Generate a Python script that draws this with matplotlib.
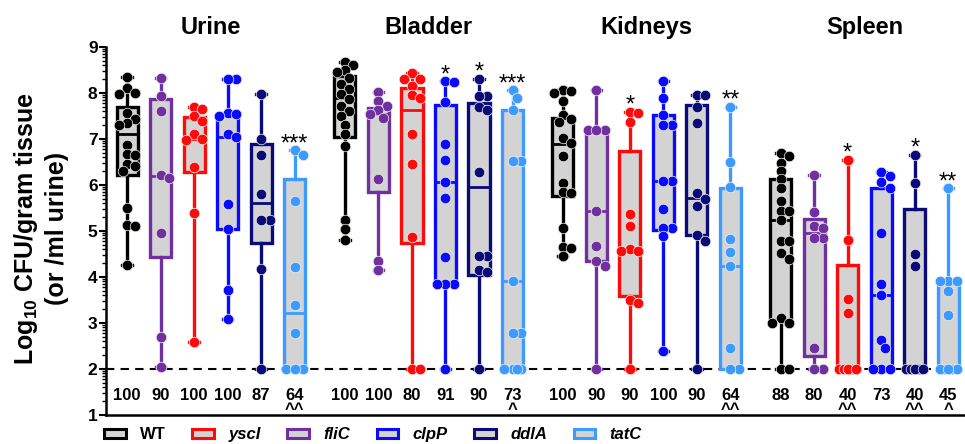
"""
Bacterial burden per organ for WT and mutant strains
"""

import numpy as np
import matplotlib
matplotlib.use('Agg')
import matplotlib.pyplot as plt
from matplotlib.patches import Patch

plt.rcParams['font.family'] = 'Liberation Sans'
plt.rcParams['font.weight'] = 'bold'
plt.rcParams['mathtext.fontset'] = 'custom'
plt.rcParams['mathtext.rm'] = 'Liberation Sans:bold'
plt.rcParams['mathtext.bf'] = 'Liberation Sans:bold'

organs = ['Urine', 'Bladder', 'Kidneys', 'Spleen']
strains = ['WT', 'fliC', 'yscI', 'clpP', 'ddlA', 'tatC']
colors = ['#000000', '#7030a0', '#ff0a0a', '#0a0aff', '#0a0a78', '#3d9bff']
legend_order = ['WT', 'yscI', 'fliC', 'clpP', 'ddlA', 'tatC']

# log10 CFU per strain (plot order: WT, fliC, yscI, clpP, ddlA, tatC)
urine_points = [
    [8.35, 8.1, 8.0, 7.97, 7.57, 7.43, 7.34, 7.3, 6.88, 6.68, 6.65, 6.45, 6.42, 6.3, 5.5, 5.12, 5.1, 4.27],
    [8.32, 7.93, 7.61, 6.22, 6.15, 4.96, 2.69, 2.05],
    [7.70, 7.65, 7.5, 7.4, 7.1, 7.0, 6.98, 6.4, 5.4, 2.58],
    [8.3, 8.3, 7.57, 7.55, 7.5, 7.1, 7.05, 5.58, 5.05, 3.71, 3.09],
    [7.97, 7.0, 6.66, 5.8, 5.25, 5.25, 4.18, 2.0],
    [6.76, 6.66, 5.65, 4.22, 3.4, 2.79, 2.0, 2.0, 2.0],
]
bladder_points = [
    [8.68, 8.6, 8.5, 8.45, 8.33, 8.2, 8.08, 7.98, 7.86, 7.72, 7.6, 7.5, 7.3, 7.1, 6.85, 5.25, 5.05, 4.80],
    [8.03, 7.83, 7.72, 7.62, 7.55, 7.45, 6.12, 4.34, 4.16],
    [8.43, 8.3, 8.3, 8.15, 7.95, 7.9, 7.1, 6.45, 4.87, 2.0, 2.0],
    [8.26, 8.24, 7.8, 6.9, 6.54, 6.06, 5.72, 4.44, 3.84, 3.84, 3.84, 2.0],
    [8.31, 7.93, 7.93, 7.7, 7.64, 6.28, 4.45, 4.45, 4.16, 4.1, 2.0],
    [8.06, 7.9, 7.64, 6.53, 6.53, 3.91, 2.79, 2.79, 2.0, 2.0, 2.0, 2.0],
]
kidneys_points = [
    [8.06, 8.04, 8.0, 7.83, 7.53, 7.43, 7.38, 7.03, 6.92, 6.63, 6.05, 5.85, 5.83, 5.07, 4.66, 4.64, 4.45],
    [8.06, 7.19, 7.19, 7.19, 5.43, 4.67, 4.34, 4.24, 2.0],
    [7.59, 7.57, 7.37, 5.36, 5.11, 4.6, 4.56, 4.56, 3.51, 3.44, 2.0],
    [8.26, 7.9, 7.53, 7.3, 7.3, 6.09, 6.09, 5.48, 5.07, 5.07, 4.89, 2.39],
    [7.95, 7.95, 7.7, 7.35, 5.83, 5.69, 5.54, 4.92, 4.78, 2.0],
    [7.70, 6.51, 5.95, 4.83, 4.54, 4.24, 2.46, 2.0, 2.0],
]
spleen_points = [
    [6.7, 6.63, 6.48, 6.3, 6.12, 5.94, 5.65, 5.43, 5.43, 5.25, 4.78, 4.78, 4.53, 4.4, 3.11, 3.0, 3.0, 2.0, 2.0],
    [6.21, 5.41, 5.11, 5.07, 4.85, 4.85, 2.46, 2.0, 2.0],
    [6.55, 4.81, 3.52, 3.22, 2.0, 2.0, 2.0, 2.0, 2.0, 2.0],
    [6.28, 6.19, 6.06, 5.94, 4.96, 3.84, 3.6, 2.63, 2.46, 2.0, 2.0, 2.0],
    [6.66, 6.05, 4.49, 4.24, 2.0, 2.0, 2.0, 2.0, 2.0, 2.0],
    [5.93, 3.91, 3.91, 3.91, 3.69, 3.18, 2.0, 2.0, 2.0, 2.0, 2.0],
]

# box quartiles and medians
urine_q1 = [6.22, 4.43, 6.29, 5.05, 4.74, 2.0]
urine_med = [7.10, 6.20, 7.00, 7.05, 5.61, 3.21]
urine_q3 = [7.70, 7.86, 7.48, 7.52, 6.90, 6.12]
bladder_q1 = [7.05, 5.84, 4.74, 3.84, 4.05, 2.0]
bladder_med = [7.90, 7.55, 7.62, 6.06, 5.96, 3.91]
bladder_q3 = [8.37, 7.68, 8.10, 7.73, 7.79, 7.62]
kidneys_q1 = [5.77, 4.34, 3.58, 5.03, 4.92, 2.0]
kidneys_med = [6.90, 5.43, 4.57, 6.09, 5.72, 4.24]
kidneys_q3 = [7.45, 7.17, 6.74, 7.52, 7.75, 5.94]
spleen_q1 = [3.06, 2.29, 2.0, 2.0, 2.0, 2.0]
spleen_med = [5.23, 4.95, 2.0, 3.60, 2.0, 2.0]
spleen_q3 = [6.12, 5.27, 4.27, 5.93, 5.47, 3.87]

# percent infected, significance vs WT (stars) and vs incidence (carets)
urine_pct = [100, 90, 100, 100, 87, 64]
bladder_pct = [100, 100, 80, 91, 90, 73]
kidneys_pct = [100, 90, 90, 100, 90, 64]
spleen_pct = [88, 80, 40, 73, 40, 45]
urine_stars = ['', '', '', '', '', '***']
bladder_stars = ['', '', '', '*', '*', '***']
kidneys_stars = ['', '', '*', '', '', '**']
spleen_stars = ['', '', '*', '', '*', '**']
urine_carets = ['', '', '', '', '', '^^']
bladder_carets = ['', '', '', '', '', '^']
kidneys_carets = ['', '', '', '', '', '^^']
spleen_carets = ['', '', '^^', '', '^^', '^']

detection_limit = 2.0

panels = [
    (urine_points, urine_q1, urine_med, urine_q3, urine_pct, urine_stars, urine_carets),
    (bladder_points, bladder_q1, bladder_med, bladder_q3, bladder_pct, bladder_stars, bladder_carets),
    (kidneys_points, kidneys_q1, kidneys_med, kidneys_q3, kidneys_pct, kidneys_stars, kidneys_carets),
    (spleen_points, spleen_q1, spleen_med, spleen_q3, spleen_pct, spleen_stars, spleen_carets),
]

BOX_W = 0.63
GROUP_STEP = 6.5
PX_X = 33.5   # pixels per x unit
PX_Y = 46.0   # pixels per log unit
DOT_PX = 10.5


def swarm_offsets(values, max_off=0.25, step=0.125):
    """Simple beeswarm: push overlapping dots sideways, kept inside the box."""
    order = np.argsort(values)[::-1]
    cands = [0.0]
    k = 1
    while k * step <= max_off + 1e-9:
        cands += [k * step, -k * step]
        k += 1
    placed = []
    offs = np.zeros(len(values))
    for idx in order:
        y = values[idx]
        best, best_d = 0.0, -1
        for c in cands:
            if placed:
                d = min(np.hypot((c - px) * PX_X, (y - py) * PX_Y) for px, py in placed)
            else:
                d = np.inf
            if d >= 0.75 * DOT_PX:
                best = c
                break
            if d > best_d:
                best, best_d = c, d
        offs[idx] = best
        placed.append((best, y))
    return offs


fig = plt.figure(figsize=(9.65, 4.44), dpi=100)
ax = fig.add_axes([0.1098, 0.0653, 0.8902, 0.8288])

ax.axhline(detection_limit, color='black', lw=1.5, dashes=(4, 3), zorder=1)

for g, (pts, q1, med, q3, pct, stars, carets) in enumerate(panels):
    pos = [g * GROUP_STEP + i for i in range(len(strains))]
    stats = []
    for i in range(len(strains)):
        stats.append({'q1': q1[i], 'med': med[i], 'q3': q3[i],
                      'whislo': min(pts[i]), 'whishi': max(pts[i]), 'fliers': []})
    bp = ax.bxp(stats, positions=pos, widths=BOX_W, capwidths=0.28,
                patch_artist=True, showfliers=False, manage_ticks=False)
    for i, c in enumerate(colors):
        bp['boxes'][i].set(facecolor='#d3d3d3', edgecolor=c, linewidth=2.4, zorder=2)
        bp['medians'][i].set(color=c, linewidth=2.0, zorder=2)
        for ln in bp['whiskers'][2 * i:2 * i + 2] + bp['caps'][2 * i:2 * i + 2]:
            ln.set(color=c, linewidth=2.4, zorder=2)

        vals = np.array(pts[i])
        ax.plot(pos[i] + swarm_offsets(vals), vals, 'o', ms=7.6, color=c,
                mec='#f4f4ec', mew=0.5, zorder=3, clip_on=False)

        if stars[i]:
            ax.text(pos[i], max(pts[i]) + 0.0, stars[i], ha='center', va='baseline',
                    fontsize=17, fontweight='normal')
        ax.text(pos[i], 1.43, str(pct[i]), ha='center', va='center', fontsize=12)
        if carets[i]:
            ax.text(pos[i], 1.12, carets[i], ha='center', va='center', fontsize=12)

    ax.text(g * GROUP_STEP + 2.5, 9.42, organs[g], ha='center', va='center',
            fontsize=17, clip_on=False)

ax.set_xlim(-0.63, 25.0)
ax.set_ylim(1, 9)
ax.set_yticks(range(1, 10))
minor = [k + np.log10(m) for k in range(1, 9) for m in range(2, 10)]
ax.set_yticks(minor, minor=True)
ax.set_xticks([])
ax.tick_params(axis='y', which='major', length=5, width=1.5, labelsize=12.5, pad=1)
ax.tick_params(axis='y', which='minor', length=3, width=1.0)
for s in ('top', 'right'):
    ax.spines[s].set_visible(False)
ax.spines['left'].set_linewidth(1.8)
ax.spines['bottom'].set_linewidth(1.8)

fig.text(0.042, 0.485, 'Log$_{10}$ CFU/gram tissue\n(or /ml urine)', rotation=90,
         ha='center', va='center', fontsize=18, linespacing=1.25, multialignment='center')

handles = [Patch(facecolor='#d3d3d3', edgecolor=colors[strains.index(s)], lw=2.2)
           for s in legend_order]
leg = fig.legend(handles, legend_order, loc='center left', bbox_to_anchor=(0.108, 0.021),
                 ncol=6, frameon=False, fontsize=12, handlelength=1.3, handleheight=0.5,
                 handletextpad=0.85, columnspacing=1.6, borderpad=0, borderaxespad=0)
for t in leg.get_texts():
    if t.get_text() != 'WT':
        t.set_style('italic')

fig.savefig('out.png', dpi=100)
